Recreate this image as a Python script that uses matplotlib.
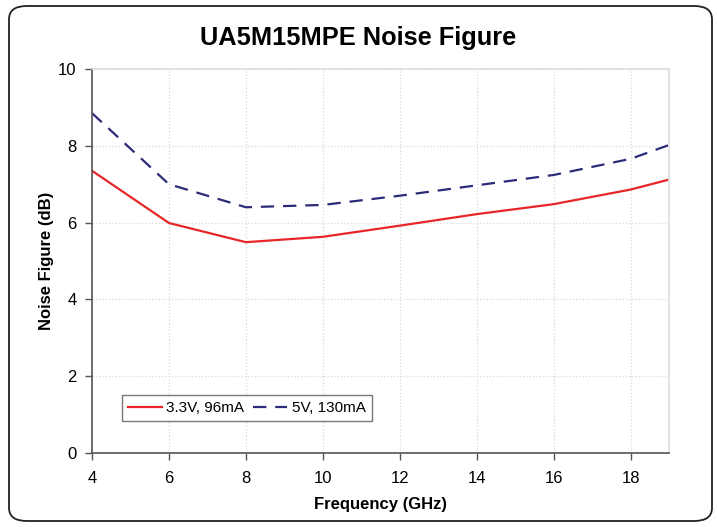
"""Noise figure chart for the UA5M15MPE amplifier."""

import matplotlib.pyplot as plt
from matplotlib.patches import FancyBboxPatch

plt.rcParams['font.family'] = ['Liberation Sans', 'DejaVu Sans']

# Frequency points (GHz) and noise figure (dB)
freq = [4, 6, 8, 10, 12, 14, 16, 18, 19]
nf_33v = [7.35, 5.99, 5.49, 5.63, 5.92, 6.22, 6.48, 6.86, 7.12]
nf_5v = [8.85, 7.0, 6.4, 6.46, 6.7, 6.97, 7.24, 7.66, 8.02]

labels = ['3.3V, 96mA', '5V, 130mA']
xticks = [4, 6, 8, 10, 12, 14, 16, 18]
yticks = [0, 2, 4, 6, 8, 10]

fig = plt.figure(figsize=(7.17, 5.27), dpi=100)
ax = fig.add_axes([92 / 717, 1 - 453 / 527, (669 - 92) / 717, (453 - 69) / 527])

# Rounded outer frame
frame = FancyBboxPatch((9 / 717, 6 / 527), 703 / 717, 515 / 527,
                       boxstyle='round,pad=0,rounding_size=0.025',
                       transform=fig.transFigure, fill=False,
                       edgecolor='#222222', linewidth=1.3, zorder=0)
fig.patches.append(frame)

ax.plot(freq, nf_33v, color='#e8262a', linewidth=1.6, label=labels[0])
ax.plot(freq, nf_5v, color='#2b2b7a', linewidth=1.6, linestyle=(0, (6, 4)),
        label=labels[1])

ax.set_xlim(4, 19)
ax.set_ylim(0, 10)
ax.set_xticks(xticks)
ax.set_yticks(yticks)
ax.tick_params(labelsize=12, length=5, width=1, color='#555555', pad=6)
ax.tick_params(axis='x', pad=8)
ax.grid(True, color='#d8d8d8', linestyle=':', linewidth=0.9)

for side in ['top', 'right']:
    ax.spines[side].set_color('#dddddd')
    ax.spines[side].set_linewidth(1.2)
for side in ['left', 'bottom']:
    ax.spines[side].set_color('#555555')
    ax.spines[side].set_linewidth(1.2)

ax.set_xlabel('Frequency (GHz)', fontsize=12, fontweight='bold', labelpad=8)
ax.set_ylabel('Noise Figure (dB)', fontsize=12, fontweight='bold', labelpad=3)
fig.suptitle('UA5M15MPE Noise Figure', fontsize=18.3, fontweight='bold',
             y=1 - 38 / 527, va='center')

leg = ax.legend(ncol=2, loc='lower left', bbox_to_anchor=(0.052, 0.083),
                borderaxespad=0, fontsize=11, frameon=True, fancybox=False,
                handlelength=2.2, handletextpad=0.3, columnspacing=0.6,
                borderpad=0.4)
leg.get_frame().set_edgecolor('#555555')
leg.get_frame().set_linewidth(1.0)

fig.savefig('out.png', dpi=100)
